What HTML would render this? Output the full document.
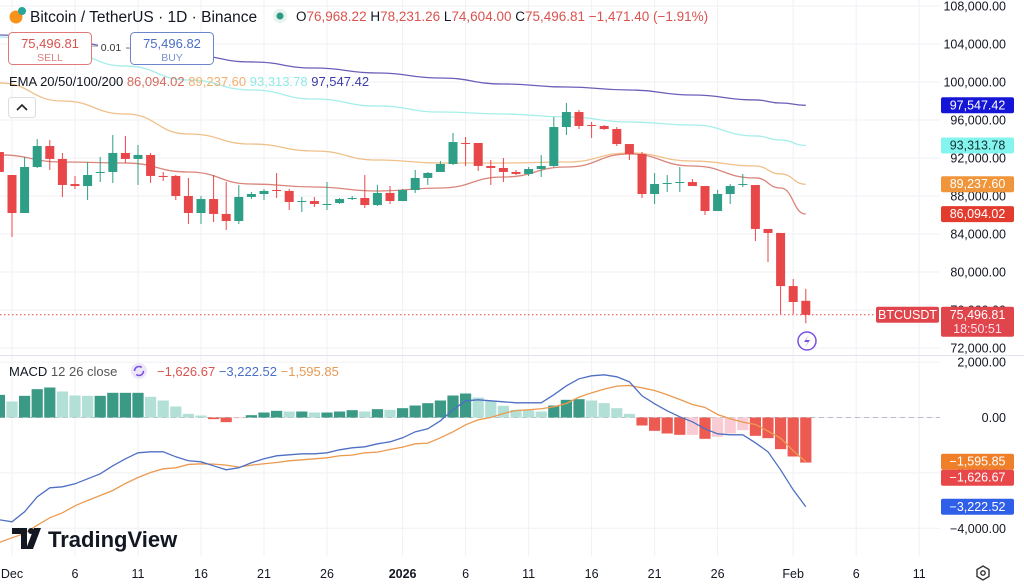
<!DOCTYPE html>
<html><head><meta charset="utf-8"><style>
html,body{margin:0;padding:0;background:#fff;}
svg{display:block;font-family:"Liberation Sans",sans-serif;}
</style></head><body>
<svg id="c" width="1024" height="586" viewBox="0 0 1024 586">
<g id="grid"></g>
<g id="ema"></g>
<g id="candles"></g>
<g id="macd"></g>
<g id="axes"></g>
<g>
  <circle cx="16" cy="17" r="6.5" fill="#f7931a"/>
  <circle cx="22" cy="11" r="4" fill="#26a69a"/>
  <text x="30" y="22" font-size="15.5" fill="#131722">Bitcoin / TetherUS · 1D · Binance</text>
  <circle cx="280" cy="16" r="7" fill="#e6f3ef"/>
  <circle cx="280" cy="16" r="3.5" fill="#2b9a7e"/>
  <text x="296" y="21" font-size="13.5" fill="#131722">O<tspan fill="#d9534f">76,968.22</tspan>  H<tspan fill="#d9534f">78,231.26</tspan>  L<tspan fill="#d9534f">74,604.00</tspan>  C<tspan fill="#d9534f">75,496.81</tspan> <tspan fill="#d9534f">−1,471.40 (−1.91%)</tspan></text>
</g>
<g>
  <rect x="8.5" y="32.5" width="83" height="32" rx="4" fill="#fff" stroke="#e07a7a"/>
  <text x="50" y="48" font-size="13" fill="#d9534f" text-anchor="middle">75,496.81</text>
  <text x="50" y="61" font-size="10.5" fill="#e08080" text-anchor="middle">SELL</text>
  <line x1="92" y1="46" x2="130" y2="48" stroke="#aaa"/>
  <rect x="98" y="39" width="28" height="14" fill="#fff"/>
  <text x="111" y="51" font-size="10.5" fill="#333" text-anchor="middle">0.01</text>
  <rect x="130.5" y="32.5" width="83" height="32" rx="4" fill="#fff" stroke="#6b86c9"/>
  <text x="172" y="48" font-size="13" fill="#4a6fc7" text-anchor="middle">75,496.82</text>
  <text x="172" y="61" font-size="10.5" fill="#7a92cf" text-anchor="middle">BUY</text>
</g>
<g>
  <text x="9" y="86" font-size="13" fill="#131722">EMA 20/50/100/200 <tspan fill="#d46a5e">86,094.02</tspan> <tspan fill="#efb070">89,237.60</tspan> <tspan fill="#8eeae4">93,313.78</tspan> <tspan fill="#3c3ca8">97,547.42</tspan></text>
  <rect x="8.5" y="97.5" width="27" height="20" rx="3" fill="#fff" stroke="#ddd"/>
  <path d="M17 110 L22 105 L27 110" fill="none" stroke="#222" stroke-width="1.6"/>
</g>
<g>
  <text x="9" y="376" font-size="13" fill="#131722">MACD <tspan fill="#555">12 26 close</tspan></text>
  <circle cx="139" cy="371" r="8" fill="#ece6fb"/>
  <circle cx="139" cy="371" r="4.5" fill="none" stroke="#7b4fe0" stroke-width="1.6" stroke-dasharray="10 4"/>
  <text x="157" y="376" font-size="13" fill="#d9534f">−1,626.67 <tspan fill="#4a6fc7">−3,222.52</tspan> <tspan fill="#e69a55">−1,595.85</tspan></text>
</g>
<g>
  <path d="M12 528 H27 V549 H21 V534 H12 Z" fill="#131722"/>
  <circle cx="31" cy="531" r="3" fill="#131722"/>
  <path d="M34 528 H41 L33 549 H26 Z" fill="#131722"/>
  <text x="48" y="547" font-size="22" font-weight="bold" fill="#131722">TradingView</text>
</g>
<g>
  <circle cx="807" cy="341" r="9" fill="#fff" stroke="#7b4fe0" stroke-width="1.5"/>
  <path d="M809 335 L804 342 H808 L805 347 L810 340 H806 Z" fill="#7b4fe0"/>
</g>
<g>
  <path d="M983 566 L989 569.5 V576.5 L983 580 L977 576.5 V569.5 Z" fill="none" stroke="#333" stroke-width="1.4"/>
  <circle cx="983" cy="573" r="2.2" fill="none" stroke="#333" stroke-width="1.4"/>
</g>
</svg>
<script>
// ---- data (thousands USD for prices) ----
const days = ["Nov30","Dec1","Dec2","Dec3","Dec4","Dec5","Dec6","Dec7","Dec8","Dec9","Dec10","Dec11","Dec12","Dec13","Dec14","Dec15","Dec16","Dec17","Dec18","Dec19","Dec20","Dec21","Dec22","Dec23","Dec24","Dec25","Dec26","Dec27","Dec28","Dec29","Dec30","Dec31","Jan1","Jan2","Jan3","Jan4","Jan5","Jan6","Jan7","Jan8","Jan9","Jan10","Jan11","Jan12","Jan13","Jan14","Jan15","Jan16","Jan17","Jan18","Jan19","Jan20","Jan21","Jan22","Jan23","Jan24","Jan25","Jan26","Jan27","Jan28","Jan29","Jan30","Jan31","Feb1","Feb2"];
const opens = [92.63,90.21,86.21,91.05,93.26,91.90,89.26,89.05,90.42,90.53,92.53,91.90,92.32,90.11,90.11,88.00,86.21,87.68,86.11,85.37,87.90,88.21,88.63,88.53,87.37,87.47,87.10,87.26,87.68,87.79,87.05,88.32,87.47,88.63,89.90,90.53,91.37,93.58,93.58,91.16,90.95,90.53,90.32,90.84,91.16,95.26,96.84,95.47,95.37,95.05,93.47,92.42,88.21,89.30,89.42,89.47,89.05,86.42,88.21,89.20,89.16,84.53,84.11,78.52,76.968];
const highs = [92.84,90.21,92.11,94.00,93.90,92.53,90.11,91.58,92.11,94.42,94.32,93.37,92.53,90.53,90.21,89.90,88.00,90.21,89.47,89.16,88.42,88.74,90.42,88.74,87.90,87.90,89.47,87.79,88.00,90.21,89.16,89.05,88.74,90.74,90.53,91.68,94.63,94.21,93.58,91.79,92.00,90.74,91.05,92.32,96.32,97.79,97.05,95.79,95.47,95.26,93.47,92.63,90.42,90.21,91.05,89.79,89.05,88.63,89.26,90.32,89.16,84.53,84.11,79.26,78.231];
const lows = [90.21,83.69,86.21,90.95,90.74,87.90,88.74,87.58,89.47,89.37,91.47,89.16,89.37,89.58,87.58,85.05,85.05,85.26,84.42,85.05,87.68,87.58,87.79,86.53,86.32,86.84,86.53,87.16,87.58,86.74,86.95,87.16,87.47,88.32,89.16,90.53,91.26,91.16,90.63,89.16,89.47,90.21,90.11,90.00,91.05,94.42,95.05,94.11,94.95,93.26,91.79,87.79,87.16,88.42,88.42,89.05,86.00,86.42,87.16,88.95,83.26,81.05,75.58,75.58,74.604];
const closes = [90.53,86.21,91.05,93.26,91.90,89.16,89.05,90.21,90.53,92.53,91.90,92.32,90.11,90.00,88.00,86.21,87.68,86.11,85.37,87.90,88.21,88.53,88.53,87.37,87.47,87.16,87.16,87.68,87.79,87.05,88.32,87.47,88.63,89.90,90.42,91.37,93.68,93.53,91.16,90.95,90.53,90.32,90.84,91.16,95.26,96.84,95.37,95.37,95.05,93.47,92.42,88.21,89.26,89.37,89.47,89.05,86.42,88.21,89.05,89.26,84.53,84.11,78.52,76.84,75.49681];
// EMA samples (day index, value in thousands)
const emaDays = [0,5,10,15,20,25,30,35,40,45,50,55,60,62,64];
const ema20 = [92.32,91.58,91.47,90.53,89.26,88.95,88.53,88.84,90.00,91.05,92.42,91.16,89.90,88.84,86.09402];
const ema50 = [99.90,98.00,96.63,94.53,93.47,92.74,91.79,91.47,91.47,91.58,92.53,91.68,91.16,90.32,89.23760];
const ema100 = [104.74,103.16,101.68,100.21,99.16,98.21,97.47,96.84,96.63,96.32,95.79,95.47,94.32,93.90,93.31378];
const ema200 = [104.95,104.32,103.58,102.84,102.11,101.47,100.95,100.42,99.79,99.47,99.16,98.63,98.11,97.79,97.54742];
// MACD
const histVals = [818,578,782,1023,1083,939,794,782,782,891,891,891,746,614,397,132,72,-60,-168,-24,84,180,241,216,216,180,180,216,265,216,301,277,337,433,517,614,794,866,722,602,421,277,253,216,433,638,662,614,517,337,132,-289,-481,-578,-626,-626,-770,-698,-578,-457,-662,-746,-1143,-1408,-1626.67];
const macdVals = [-3693,-3765,-3404,-2863,-2538,-2502,-2394,-2213,-2033,-1744,-1491,-1275,-1239,-1239,-1419,-1563,-1600,-1744,-1888,-1816,-1635,-1491,-1383,-1347,-1311,-1311,-1275,-1166,-1094,-1058,-950,-878,-733,-517,-408,-119,278,603,639,603,567,531,531,531,819,1144,1397,1505,1541,1469,1289,783,495,242,25,-155,-408,-589,-625,-625,-913,-1238,-1888,-2610,-3222.52];
const signalVals = [-4511,-4343,-4186,-3886,-3621,-3441,-3188,-2995,-2815,-2635,-2382,-2166,-1985,-1853,-1816,-1695,-1672,-1684,-1720,-1792,-1719,-1671,-1624,-1563,-1527,-1491,-1455,-1382,-1359,-1274,-1251,-1155,-1070,-950,-925,-733,-516,-263,-83,1,146,254,278,315,386,506,735,891,1024,1132,1157,1072,976,820,651,471,362,109,-47,-168,-251,-492,-745,-1202,-1595.85];
const priceTicks = [108000,104000,100000,96000,92000,88000,84000,80000,76000,72000];
const macdTicks = [2000,0,-2000,-4000];
const dateTickIdx = [1,6,11,16,21,26,32,37,42,47,52,57,63,68,73];
const dateTickLabels = ["Dec","6","11","16","21","26","2026","6","11","16","21","26","Feb","6","11"];

// ---- axes ----
const NS="http://www.w3.org/2000/svg";
const X = i => -0.6 + i*12.6;
const Y = p => 6 + (108000 - p)*0.0095;
const YM = v => 417.5 - v*0.0277;
function mk(tag, attrs, parent){const e=document.createElementNS(NS,tag);for(const k in attrs)e.setAttribute(k,attrs[k]);parent.appendChild(e);return e;}
const gGrid=document.getElementById('grid'), gEma=document.getElementById('ema'), gC=document.getElementById('candles'), gM=document.getElementById('macd'), gA=document.getElementById('axes');
const fmt = v => (v<0?'−':'')+Math.abs(v).toLocaleString('en-US',{minimumFractionDigits:2,maximumFractionDigits:2});

// grid
dateTickIdx.forEach((d,k)=>{
  const l=mk('line',{x1:X(d),x2:X(d),y1:0,y2:556,stroke:'#f0f1f4'},gGrid);
  
  
  const t=mk('text',{x:X(d),y:578,'font-size':12.5,'text-anchor':'middle',fill:'#131722','font-weight':dateTickLabels[k]==='2026'?'bold':'normal'},gA);
  t.textContent=dateTickLabels[k];
  
  
});
priceTicks.forEach(p=>{
  const l=mk('line',{x1:0,x2:940,y1:Y(p),y2:Y(p),stroke:'#f0f1f4'},gGrid);
  
  
  const t=mk('text',{x:1006,y:Y(p)+4.5,'font-size':12.5,'text-anchor':'end',fill:'#131722'},gA);
  t.textContent=fmt(p);
  
  
});
macdTicks.forEach(v=>{
  const l=mk('line',{x1:0,x2:940,y1:YM(v),y2:YM(v),stroke:'#f0f1f4'},gGrid);
  
  
  const t=mk('text',{x:1006,y:YM(v)+4.5,'font-size':12.5,'text-anchor':'end',fill:'#131722'},gA);
  t.textContent=fmt(v);
  
  
});
const sep=mk('line',{x1:0,x2:1024,y1:355.5,y2:355.5,stroke:'#e0e3eb'},gGrid);


const zl=mk('line',{x1:0,x2:940,y1:YM(0),y2:YM(0),stroke:'#b8bcc6','stroke-dasharray':'5 4'},gM);



// EMA lines
function curve(vals, col, name){
  const pts=emaDays.map((d,i)=>[X(d),Y(vals[i]*1000)]);
  let d='M'+pts[0][0]+' '+pts[0][1];
  for(let i=1;i<pts.length;i++){const p0=pts[i-1],p1=pts[i],mx=(p0[0]+p1[0])/2;d+=` C${mx} ${p0[1]} ${mx} ${p1[1]} ${p1[0]} ${p1[1]}`;}
  const e=mk('path',{d:d,fill:'none',stroke:col,'stroke-width':1.3},gEma);
  
  
}
curve(ema200,'#6a5fb8','ema-200-line');
curve(ema100,'#a6eeea','ema-100-line');
curve(ema50,'#f0c08a','ema-50-line');
curve(ema20,'#d9857a','ema-20-line');

// candles
const G='#2f9e86', R='#e8474a';
days.forEach((dname,i)=>{
  const o=opens[i]*1000,h=highs[i]*1000,l=lows[i]*1000,c=closes[i]*1000;
  const col=c>=o?G:R, x=X(i);
  const w=mk('line',{x1:x,x2:x,y1:Y(h),y2:Y(l),stroke:col,'stroke-width':1},gC);
  
  
  const top=Y(Math.max(o,c)), bh=Math.max(1,Math.abs(Y(o)-Y(c)));
  const b=mk('rect',{x:x-4.5,y:top,width:9,height:bh,fill:col},gC);
  
  
});
// last price line
const lp=closes[closes.length-1]*1000;
const pl=mk('line',{x1:0,x2:876,y1:Y(lp),y2:Y(lp),stroke:'#e8474a','stroke-dasharray':'1.5 2.5','stroke-width':1},gC);



// MACD histogram & lines
histVals.forEach((v,i)=>{
  const prev=i>0?histVals[i-1]:v;
  let col; if(v>=0) col=v>=prev?'#3a9a86':'#b2dfd6'; else col=v<prev?'#ec5a52':'#f8ccd2';
  const y0=YM(0), y1=YM(v);
  const r=mk('rect',{x:X(i)-5.6,y:Math.min(y0,y1),width:11.2,height:Math.max(0.8,Math.abs(y1-y0)),fill:col},gM);
  
  
});
function line(vals,col,name){
  const d=vals.map((v,i)=>(i?'L':'M')+X(i)+' '+YM(v)).join(' ');
  const e=mk('path',{d:d,fill:'none',stroke:col,'stroke-width':1.3},gM);
  
  
}
line(signalVals,'#ec9a50','macd-signal-line');
line(macdVals,'#4f6fc4','macd-line');

// right-axis tags
function tag(x,y,w,h,bg,fg,txt,name){
  const r=mk('rect',{x:x,y:y,width:w,height:h,rx:2,fill:bg},gA);
  
  
  const t=mk('text',{x:x+w/2,y:y+12,'font-size':12.5,'text-anchor':'middle',fill:fg},gA);
  t.textContent=txt;
  
  
}
const lastE=a=>a[a.length-1]*1000;
tag(941,Y(lastE(ema200))-8,73,16,'#1515d8','#fff',fmt(lastE(ema200)),'ema200-tag');
tag(941,Y(lastE(ema100))-8,73,16,'#84f4ee','#133',fmt(lastE(ema100)),'ema100-tag');
tag(941,Y(lastE(ema50))-8,73,16,'#f0953a','#fff',fmt(lastE(ema50)),'ema50-tag');
tag(941,Y(lastE(ema20))-8,73,16,'#e33b2e','#fff',fmt(lastE(ema20)),'ema20-tag');
tag(876,Y(lp)-8,63,16,'#e0454c','#fff','BTCUSDT','symbol-tag');
const pr=mk('rect',{x:941,y:Y(lp)-8,width:73,height:30,rx:2,fill:'#e0454c'},gA);


const pt=mk('text',{x:977.5,y:Y(lp)+4,'font-size':12.5,'text-anchor':'middle',fill:'#fff'},gA);
pt.textContent=fmt(lp);


const ct=mk('text',{x:977.5,y:Y(lp)+18,'font-size':12.5,'text-anchor':'middle',fill:'#fde'},gA);
ct.textContent='18:50:51';


tag(941,YM(signalVals[signalVals.length-1])-8,73,16,'#f07f2a','#fff',fmt(signalVals[signalVals.length-1]),'signal-tag');
tag(941,YM(signalVals[signalVals.length-1])+8,73,16,'#e8474a','#fff',fmt(histVals[histVals.length-1]),'hist-tag');
tag(941,YM(macdVals[macdVals.length-1])-8,73,16,'#2f5ee8','#fff',fmt(macdVals[macdVals.length-1]),'macd-tag');
</script>
</body></html>
